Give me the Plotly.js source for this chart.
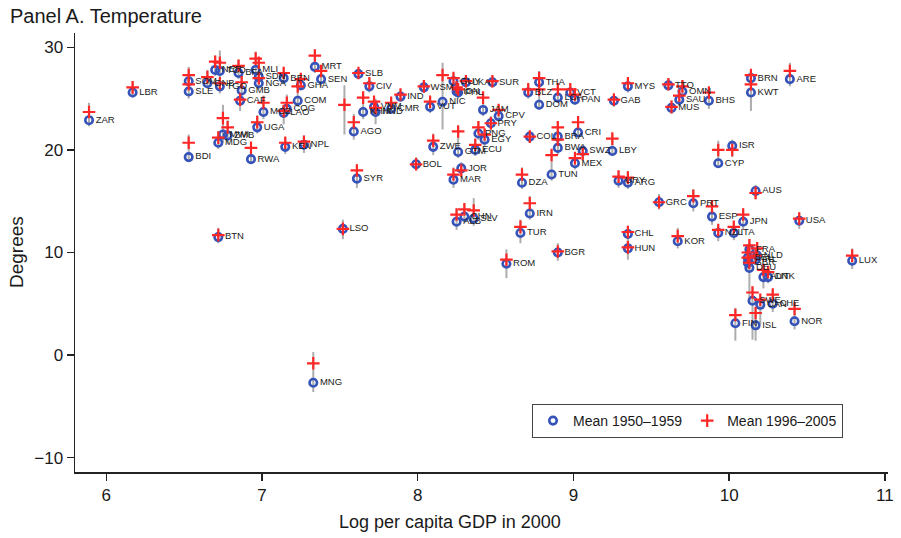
<!DOCTYPE html>
<html>
<head>
<meta charset="utf-8">
<script src="https://cdn.plot.ly/plotly-3.0.1.min.js"></script>
<style>html,body{margin:0;padding:0;background:#fff}#chart{width:901px;height:538px}</style>
</head>
<body>
<div id="chart"></div>
<script>
// Country codes
const iso = ["ZAR","LBR","SOM","SLE","GNB","NER","TCD","TGO","BFA","MLI","SDN","NGA","GMB","CAF","BEN","GHA","MOZ","COG","LAO","COM","MRT","SEN","UGA","MWI","ZMB","MDG","BDI","RWA","KEN","NPL","BTN","MNG","LSO","SLB","CIV","HTI","AGO","SYR","KHM","VNM","HND","CMR","IND","WSM","VUT","NIC","GUY","LKA","IDN","PHL","SUR","JAM","CPV","PRY","THA","BLZ","DOM","LCA","VCT","PAN","CRI","ZWE","BOL","GTM","ECU","PNG","EGY","JOR","MAR","COL","BRA","BWA","TUN","SWZ","MEX","DZA","LBY","URY","ARG","IRN","TUR","ROM","BGR","ALB","CHN","SLV","CHL","HUN","KOR","GRC","PRT","ESP","JPN","USA","NZL","ITA","AUS","ISR","CYP","GAB","MYS","TTO","OMN","SAU","MUS","BHS","BRN","KWT","ARE","FRA","NLD","BEL","GBR","DEU","IRL","AUT","DNK","SWE","CAN","CHE","FIN","ISL","NOR","LUX"];
// Log per capita GDP in 2000
const logGdp = [5.89,6.17,6.53,6.53,6.65,6.70,6.73,6.73,6.85,6.96,6.98,6.98,6.87,6.86,7.14,7.25,7.01,7.16,7.14,7.23,7.34,7.38,6.97,6.75,6.78,6.72,6.53,6.93,7.15,7.27,6.72,7.33,7.52,7.62,7.69,7.53,7.59,7.61,7.65,7.72,7.73,7.83,7.89,8.04,8.08,8.16,8.23,8.31,8.25,8.26,8.48,8.42,8.52,8.47,8.78,8.71,8.78,8.90,8.98,9.01,9.03,8.10,7.99,8.26,8.37,8.39,8.43,8.28,8.23,8.72,8.90,8.90,8.86,9.06,9.01,8.67,9.25,9.29,9.35,8.72,8.66,8.57,8.90,8.25,8.30,8.36,9.35,9.35,9.67,9.55,9.77,9.89,10.09,10.45,9.93,10.03,10.17,10.02,9.93,9.26,9.35,9.61,9.70,9.68,9.63,9.87,10.14,10.14,10.39,10.13,10.18,10.12,10.12,10.13,10.17,10.22,10.25,10.15,10.20,10.28,10.04,10.17,10.42,10.79];
// Mean temperature 1950-1959
const mean1950 = [22.9,25.6,26.7,25.7,26.5,27.8,27.7,26.2,27.5,27.8,27.1,26.5,25.8,24.8,27.0,26.3,23.7,24.0,23.6,24.8,28.1,26.9,22.2,21.5,21.4,20.7,19.3,19.1,20.3,20.5,11.5,-2.7,12.3,27.4,26.2,null,21.8,17.2,23.7,24.2,23.7,24.0,25.2,26.1,24.2,24.7,26.7,26.6,25.7,25.6,26.6,23.9,23.3,22.6,26.6,25.6,24.4,25.1,25.6,24.9,21.7,20.3,18.6,19.8,20.0,21.6,21.0,18.2,17.1,21.3,21.3,20.2,17.6,19.9,18.7,16.8,19.9,17.0,16.8,13.8,11.9,8.9,10.0,13.0,13.5,13.3,11.8,10.4,11.1,14.9,14.8,13.5,13.0,13.1,11.9,11.9,16.0,20.4,18.7,24.8,26.2,26.3,25.7,24.9,24.1,24.8,27.0,25.6,26.9,10.3,9.7,9.5,9.0,8.5,9.3,7.6,7.6,5.3,4.9,5.0,3.1,2.9,3.3,9.2];
// Mean temperature 1996-2005
const mean1996 = [23.7,26.1,27.3,26.4,27.1,28.6,28.5,26.5,28.2,28.9,28.5,27.0,26.6,24.9,27.5,26.9,24.6,24.6,23.8,26.2,29.2,27.7,22.7,23.1,22.2,21.2,20.7,20.2,20.7,20.8,11.7,-0.8,12.3,27.5,26.5,24.4,22.7,18.0,25.1,24.7,24.1,24.6,25.4,26.2,24.7,27.3,27.0,26.7,26.1,25.9,26.7,25.1,23.9,22.6,27.0,25.9,25.9,25.9,25.9,25.4,22.7,20.9,18.6,21.8,20.5,22.2,21.5,18.0,17.6,21.3,22.2,21.0,19.5,19.6,19.2,17.6,21.1,17.4,17.3,14.8,12.5,9.3,10.1,13.7,14.2,14.1,12.0,10.5,11.6,14.9,15.5,14.5,13.7,13.3,12.2,12.5,15.8,20.0,20.0,24.9,26.5,26.4,26.2,25.3,24.2,25.6,27.3,26.4,27.7,10.7,10.4,10.0,9.5,9.0,9.7,8.3,8.1,6.1,5.4,5.9,3.9,4.1,4.5,9.7];
// Range of annual temperatures (gray lines)
const tempLow = [22.3,25.1,26.2,25.0,26.0,27.2,27.1,25.5,26.9,27.0,26.6,25.9,25.1,23.8,26.4,25.8,23.0,23.3,22.5,24.2,27.5,26.2,21.6,20.7,20.6,20.1,19.0,18.7,19.6,19.7,10.9,-3.6,11.3,27.0,25.6,21.5,21.0,16.3,23.0,23.5,22.5,23.5,24.7,25.6,23.6,22.0,26.2,26.1,25.2,25.0,26.1,23.3,22.8,21.8,26.0,25.0,23.9,24.6,25.1,24.4,21.2,19.5,18.0,19.2,19.4,21.0,20.4,17.4,16.3,20.7,20.6,19.5,17.0,19.0,18.1,16.2,19.4,16.3,16.2,13.2,10.9,7.5,9.2,12.2,12.9,12.6,10.6,9.3,10.4,14.2,14.0,12.7,12.2,12.3,11.1,11.2,15.2,19.3,18.3,24.2,25.6,25.8,25.0,24.3,23.5,24.0,26.5,23.8,26.2,9.5,9.1,8.8,8.4,5.0,8.8,6.5,7.0,1.5,3.0,4.2,1.4,1.4,2.5,8.4];
const tempHigh = [24.6,26.7,28.1,26.9,27.8,29.2,29.7,27.0,28.8,29.6,29.0,27.6,27.2,25.5,28.0,27.5,25.3,25.4,24.4,26.7,29.8,28.3,23.4,24.4,22.9,21.8,21.5,20.7,21.2,21.4,12.4,0.3,13.2,27.9,27.0,26.3,23.5,18.6,25.6,25.2,25.0,25.1,25.9,26.7,25.2,28.5,27.5,27.3,26.6,26.4,27.2,25.6,24.4,23.3,27.7,26.4,26.3,26.3,26.4,25.9,23.3,21.6,19.3,22.3,21.0,22.8,22.0,18.8,18.3,21.9,22.8,21.5,20.0,20.5,19.7,18.3,21.6,18.0,17.9,15.5,13.2,10.3,10.9,14.3,14.7,15.3,12.6,11.2,12.4,15.7,16.2,15.0,14.3,13.9,12.6,13.0,16.6,21.0,20.9,25.4,27.0,27.0,26.8,26.0,24.8,26.0,27.8,27.7,28.5,11.3,11.0,10.6,10.0,9.6,10.2,8.9,8.6,6.7,5.9,6.4,4.6,4.6,5.1,10.4];
const xTicks = [6,7,8,9,10,11];
const yTicks = [-10,0,10,20,30];
const yTickText = ["\u221210","0","10","20","30"];

const rangeX = [], rangeY = [];
for (let i = 0; i < iso.length; i++) {
  rangeX.push(logGdp[i], logGdp[i], null);
  rangeY.push(tempLow[i], tempHigh[i], null);
}

const FONT = "Liberation Sans, Arial, Helvetica, sans-serif";
const traces = [
  {x: rangeX, y: rangeY, type: "scatter", mode: "lines", line: {color: "#adadad", width: 2}, showlegend: false, hoverinfo: "skip"},
  {x: logGdp, y: mean1950, type: "scatter", mode: "markers", name: "Mean 1950\u20131959",
   marker: {symbol: "circle-open", size: 7.5, color: "#3553b8", line: {width: 2.6, color: "#3553b8"}}},
  {x: logGdp, y: mean1996, type: "scatter", mode: "markers", name: "Mean 1996\u20132005",
   marker: {symbol: "cross-thin-open", size: 9, color: "#ff2626", line: {width: 2.2, color: "#ff2626"}}},
  {x: logGdp, y: mean1950, text: iso, type: "scatter", mode: "markers+text", textposition: "middle right",
   marker: {size: 9, color: "rgba(0,0,0,0)"}, textfont: {family: FONT, size: 9.5, color: "#1a1a1a"},
   showlegend: false, hoverinfo: "skip"}
];

const layout = {
  width: 901, height: 538,
  margin: {l: 75, r: 13, t: 33, b: 66},
  paper_bgcolor: "#fff", plot_bgcolor: "#fff",
  font: {family: FONT, color: "#1a1a1a"},
  title: {text: "Panel A. Temperature", font: {family: FONT, size: 20, color: "#1a1a1a"},
          x: 10/901, xref: "container", xanchor: "left", y: 1 - 15.5/538, yref: "container", yanchor: "middle"},
  xaxis: {range: [5.80, 11.02], tickvals: xTicks, ticks: "outside", ticklen: 7, tickwidth: 1.3, tickcolor: "#222",
          showline: true, linecolor: "#222", linewidth: 1.5, showgrid: false, zeroline: false,
          tickfont: {size: 17, family: FONT}, title: {text: ""}},
  yaxis: {range: [-11.4, 31.4], tickvals: yTicks, ticktext: yTickText, ticks: "outside", ticklen: 7, tickwidth: 1.3, tickcolor: "#222",
          showline: true, linecolor: "#222", linewidth: 1.5, showgrid: false, zeroline: false,
          tickfont: {size: 17, family: FONT}, title: {text: ""}},
  annotations: [
    {text: "Log per capita GDP in 2000", xref: "paper", yref: "paper", x: (450-75)/813, y: -(522-472)/439,
     xanchor: "center", yanchor: "middle", showarrow: false, font: {size: 18, family: FONT, color: "#1a1a1a"}},
    {text: "Degrees", xref: "paper", yref: "paper", x: -(75-17)/813, y: (472-252)/439, textangle: -90,
     xanchor: "center", yanchor: "middle", showarrow: false, font: {size: 19, family: FONT, color: "#1a1a1a"}}
  ],
  legend: {orientation: "h", x: (532-75)/813, y: (472-438)/439, xanchor: "left", yanchor: "bottom",
           bordercolor: "#444", borderwidth: 1, bgcolor: "#fff", font: {size: 14, family: FONT, color: "#1a1a1a"}},
  showlegend: true
};

Plotly.newPlot("chart", traces, layout, {displayModeBar: false, staticPlot: true});
</script>
</body>
</html>
